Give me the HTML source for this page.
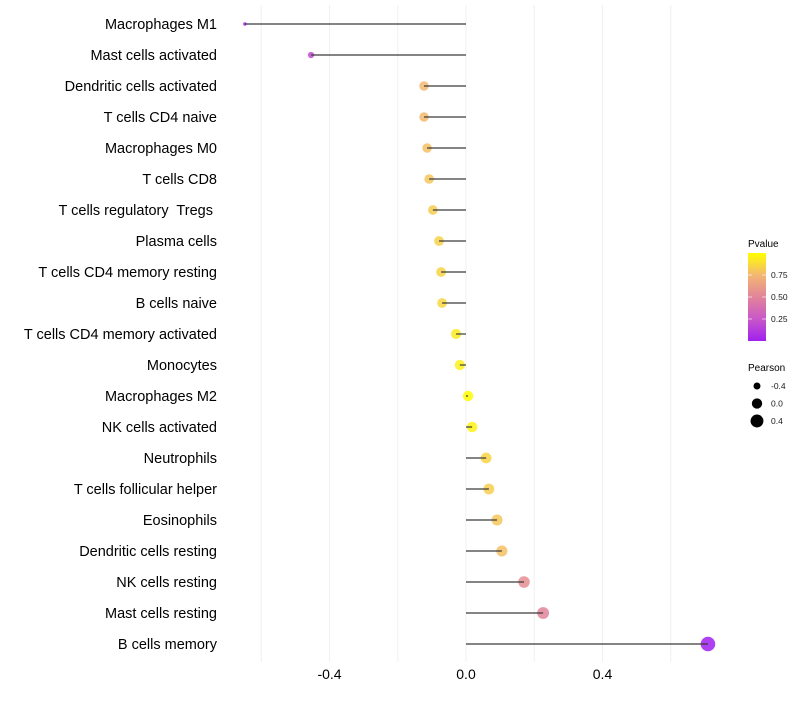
<!DOCTYPE html>
<html><head><meta charset="utf-8"><style>
body{margin:0;background:#fff;font-family:"Liberation Sans",sans-serif}
</style></head><body>
<svg id="chart" width="800" height="700" xmlns="http://www.w3.org/2000/svg">
<defs><linearGradient id="pg" x1="0" y1="1" x2="0" y2="0">
<stop offset="0" stop-color="#a020f0"/><stop offset="0.25" stop-color="#c957c8"/><stop offset="0.5" stop-color="#e2849a"/><stop offset="0.75" stop-color="#f3b772"/><stop offset="1" stop-color="#ffff00"/>
</linearGradient></defs>
<g id="grid"></g>
<g id="pts"></g>
<g id="segs"></g>
<g id="labels"></g>
<g id="xt"></g>
<g>
<text x="748" y="247" font-size="10" fill="#000">Pvalue</text>
<rect x="748" y="253" width="18" height="88" fill="url(#pg)"/>
<g id="cbt"></g>
</g>
<g id="sizeleg">
<text x="748" y="371" font-size="10" fill="#000">Pearson</text>
</g>
</svg>
<script>
const categories=["Macrophages M1","Mast cells activated","Dendritic cells activated","T cells CD4 naive","Macrophages M0","T cells CD8","T cells regulatory  Tregs ","Plasma cells","T cells CD4 memory resting","B cells naive","T cells CD4 memory activated","Monocytes","Macrophages M2","NK cells activated","Neutrophils","T cells follicular helper","Eosinophils","Dendritic cells resting","NK cells resting","Mast cells resting","B cells memory"];
const pearson=[-0.648,-0.454,-0.123,-0.123,-0.114,-0.108,-0.097,-0.079,-0.073,-0.070,-0.029,-0.018,0.006,0.018,0.059,0.067,0.091,0.105,0.170,0.226,0.709];
const pvalue=[0.02,0.2,0.75,0.76,0.78,0.8,0.82,0.84,0.85,0.86,0.93,0.95,0.99,0.96,0.85,0.83,0.8,0.78,0.55,0.5,0.0];
const xTicks=[-0.4,0.0,0.4];
const xTickLabels=["-0.4","0.0","0.4"];
const minorTicks=[-0.6,-0.2,0.2,0.6];
const legendSizes=[-0.4,0.0,0.4];
const colorTicks=[0.25,0.5,0.75];
const NS="http://www.w3.org/2000/svg";
const x=v=>466+v*341.25;
const y=i=>24+i*31;
const pMin=Math.min(...pearson),pMax=Math.max(...pearson);
const r=v=>Math.sqrt(3+(v-pMin)/(pMax-pMin)*50);
const stops=[[0,[160,32,240]],[0.25,[201,87,200]],[0.5,[226,132,154]],[0.75,[243,183,114]],[1,[255,255,0]]];
function col(p){for(let k=1;k<stops.length;k++){if(p<=stops[k][0]){const a=stops[k-1],b=stops[k],t=(p-a[0])/(b[0]-a[0]);return "rgb("+a[1].map((c,j)=>Math.round(c+(b[1][j]-c)*t)).join(",")+")";}}return "rgb(255,255,0)";}
function mk(tag,attrs,parent){const e=document.createElementNS(NS,tag);for(const k in attrs)e.setAttribute(k,attrs[k]);document.getElementById(parent).appendChild(e);return e;}
minorTicks.concat(xTicks).forEach(v=>{const l=mk("line",{x1:x(v),x2:x(v),y1:5,y2:662,stroke:"#f0f0f0","stroke-width":1},"grid");

});
categories.forEach((c,i)=>{
const cy=y(i);
const p=mk("circle",{cx:x(pearson[i]),cy:cy,r:r(pearson[i]),fill:col(pvalue[i]),"fill-opacity":0.85},"pts");


const s=mk("line",{x1:x(0),x2:x(pearson[i]),y1:cy,y2:cy,stroke:"#3a3a3a","stroke-width":1.2},"segs");


const t=mk("text",{x:217,y:cy+5,"text-anchor":"end","font-size":14.5,fill:"#000",style:"white-space:pre"},"labels");
t.textContent=c;


});
xTicks.forEach((v,i)=>{const t=mk("text",{x:x(v),y:679,"text-anchor":"middle","font-size":14,fill:"#000"},"xt");
t.textContent=xTickLabels[i];

});
colorTicks.forEach(v=>{const yy=341-v*88;
mk("line",{x1:748,x2:752,y1:yy,y2:yy,stroke:"#fff","stroke-width":0.6},"cbt");
mk("line",{x1:762,x2:766,y1:yy,y2:yy,stroke:"#fff","stroke-width":0.6},"cbt");
const t=mk("text",{x:771,y:yy+3,"font-size":8.5,fill:"#1a1a1a"},"cbt");
t.textContent=v.toFixed(2);

});
legendSizes.forEach((v,i)=>{const yy=386+i*17.5;
const c=mk("circle",{cx:757,cy:yy,r:r(v),fill:"#000"},"sizeleg");


const t=mk("text",{x:771,y:yy+3,"font-size":8.5,fill:"#1a1a1a"},"sizeleg");
t.textContent=v.toFixed(1);

});
</script>
</body></html>
